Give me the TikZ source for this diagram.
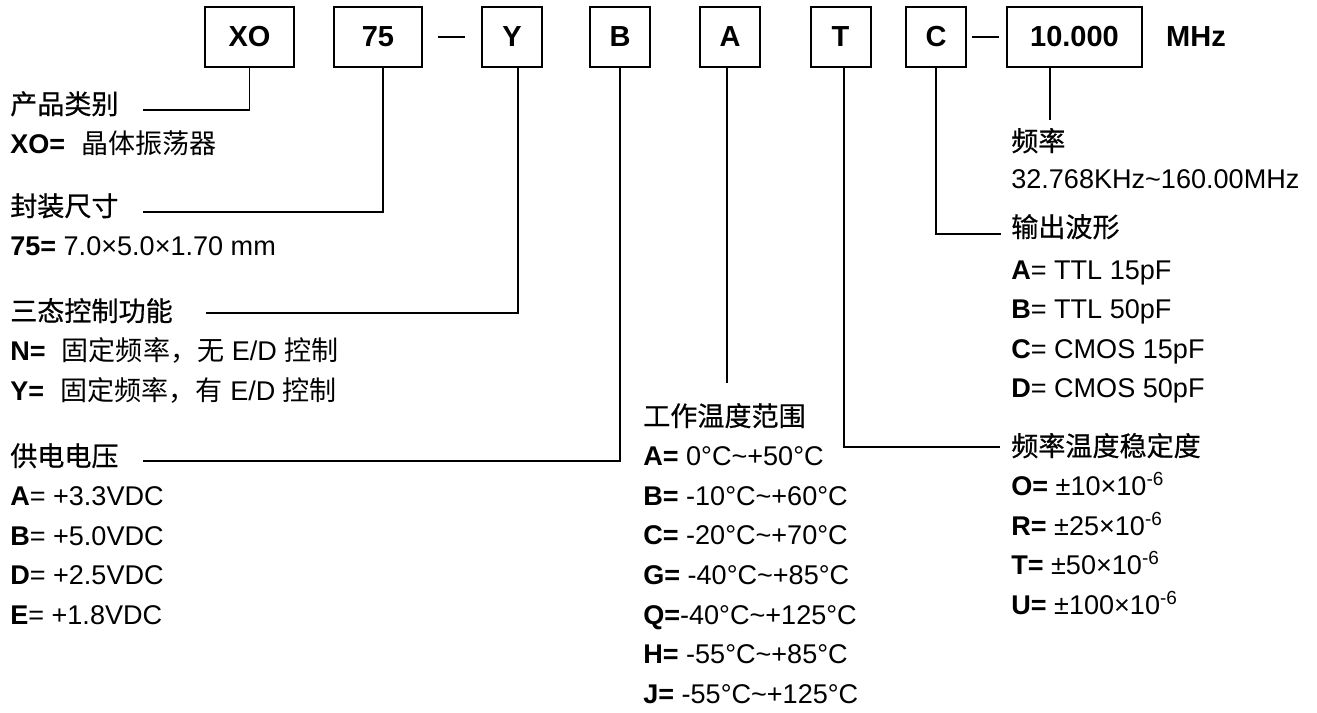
\documentclass[tikz,border=0pt]{standalone}
\usepackage{fontspec}
\setmainfont{Liberation Sans}
\newfontfamily\cjk{Noto Sans CJK SC}
\newfontfamily\cjkhead[FakeBold=0.6]{Noto Sans CJK SC}
\usetikzlibrary{positioning, calc}

\begin{document}
\begin{tikzpicture}[
    x=0.75pt, y=-0.75pt,
    font=\fontsize{20.3}{24}\selectfont,
    node distance=29.7pt,
    codebox/.style={
        rectangle, draw, line width=1.5pt, inner sep=0pt,
        minimum width=45pt, minimum height=45pt,
        font=\fontsize{21.75}{24}\selectfont\bfseries
    },
    codeboxW/.style={codebox, minimum width=#1},
    item/.style={anchor=base west, inner sep=0pt},
    head/.style={item, font=\fontsize{20.3}{24}\selectfont\cjkhead},
    link/.style={line width=1.25pt},
    dashline/.style={line width=1pt}
]

\useasboundingbox[fill=white] (0,0) rectangle (1317,713);

%% ─── CODE BOXES ─────────────────────────────────────────────────────────

\node[codeboxW=66.75pt] (xo)  at (249.5,37) {XO};
\node[codeboxW=66pt]    (n75) at (378,37)   {75};
\node[codebox]          (ny)  at (512,37)   {Y};
\node[codebox]          (nb)  at (620,37)   {B};
\node[codebox]          (na)  at (730,37)   {A};
\node[codebox]          (nt)  at (840.5,37) {T};
\node[codebox]          (nc)  at (936,37)   {C};
\node[codeboxW=101.25pt] (nf) at (1074.5,37) {10.000};
\node[font=\fontsize{21.75}{24}\selectfont\bfseries] (mhz) at (1196,37) {MHz};

\draw[dashline] ($(n75.east)+(15,0)$) -- ($(ny.west)+(-16,0)$);
\draw[dashline] ($(nc.east)+(5,0)$)   -- ($(nf.west)+(-7,0)$);

%% ─── LEFT COLUMN ────────────────────────────────────────────────────────

\node[head] (cat) at (10,114) {产品类别};
\node[below=of cat.base west, item] (cat1) {\textbf{XO=}\hspace{0.6em}{\cjk 晶体振荡器}};

\node[head] (pkg) at (10,216) {封装尺寸};
\node[below=of pkg.base west, item] (pkg1) {\textbf{75=} 7.0×5.0×1.70 mm};

\node[head] (tri) at (10,321) {三态控制功能};
\node[below=of tri.base west, item]  (tri1) {\textbf{N=}\hspace{0.6em}{\cjk 固定频率，无} E/D {\cjk 控制}};
\node[below=of tri1.base west, item] (tri2) {\textbf{Y=}\hspace{0.6em}{\cjk 固定频率，有} E/D {\cjk 控制}};

\node[head] (vdd) at (10,466) {供电电压};
\node[below=of vdd.base west, item]  (vdd1) {\textbf{A}= +3.3VDC};
\node[below=of vdd1.base west, item] (vdd2) {\textbf{B}= +5.0VDC};
\node[below=of vdd2.base west, item] (vdd3) {\textbf{D}= +2.5VDC};
\node[below=of vdd3.base west, item] (vdd4) {\textbf{E}= +1.8VDC};

%% ─── MIDDLE COLUMN ──────────────────────────────────────────────────────

\node[head] (temp) at (643,426) {工作温度范围};
\node[below=of temp.base west, item]  (temp1) {\textbf{A=} 0°C\textasciitilde+50°C};
\node[below=of temp1.base west, item] (temp2) {\textbf{B=} -10°C\textasciitilde+60°C};
\node[below=of temp2.base west, item] (temp3) {\textbf{C=} -20°C\textasciitilde+70°C};
\node[below=of temp3.base west, item] (temp4) {\textbf{G=} -40°C\textasciitilde+85°C};
\node[below=of temp4.base west, item] (temp5) {\textbf{Q=}-40°C\textasciitilde+125°C};
\node[below=of temp5.base west, item] (temp6) {\textbf{H=} -55°C\textasciitilde+85°C};
\node[below=of temp6.base west, item] (temp7) {\textbf{J=} -55°C\textasciitilde+125°C};

%% ─── RIGHT COLUMN ───────────────────────────────────────────────────────

\node[head] (freq) at (1011,151) {频率};
\node[item] (freq1) at (1011,189) {32.768KHz\textasciitilde160.00MHz};

\node[head] (wave) at (1011,237) {输出波形};
\node[item] (wave1) at (1011,279) {\textbf{A}= TTL 15pF};
\node[below=of wave1.base west, item] (wave2) {\textbf{B}= TTL 50pF};
\node[below=of wave2.base west, item] (wave3) {\textbf{C}= CMOS 15pF};
\node[below=of wave3.base west, item] (wave4) {\textbf{D}= CMOS 50pF};

\node[head] (stab) at (1011,456) {频率温度稳定度};
\node[below=of stab.base west, item]  (stab1) {\textbf{O=} ±10×10\textsuperscript{-6}};
\node[below=of stab1.base west, item] (stab2) {\textbf{R=} ±25×10\textsuperscript{-6}};
\node[below=of stab2.base west, item] (stab3) {\textbf{T=} ±50×10\textsuperscript{-6}};
\node[below=of stab3.base west, item] (stab4) {\textbf{U=} ±100×10\textsuperscript{-6}};

%% ─── CONNECTORS ─────────────────────────────────────────────────────────

\coordinate (catend)  at (143,110);
\coordinate (pkgend)  at (143,212);
\coordinate (triend)  at (206,313);
\coordinate (vddend)  at (143,461);
\coordinate (tempend) at (727,383);
\coordinate (stabend) at (1000,447);
\coordinate (waveend) at (1001,234);
\coordinate (freqend) at (1050,120);

\draw[link] (xo.south) |- (catend);
\draw[link] ($(n75.south)+(5,0)$) |- (pkgend);
\draw[link] ($(ny.south)+(6,0)$) |- (triend);
\draw[link] (nb.south) |- (vddend);
\draw[link] (na.south -| tempend) -- (tempend);
\draw[link] ($(nt.south)+(3.5,0)$) |- (stabend);
\draw[link] (nc.south) |- (waveend);
\draw[link] (nf.south -| freqend) -- (freqend);

\end{tikzpicture}
\end{document}
